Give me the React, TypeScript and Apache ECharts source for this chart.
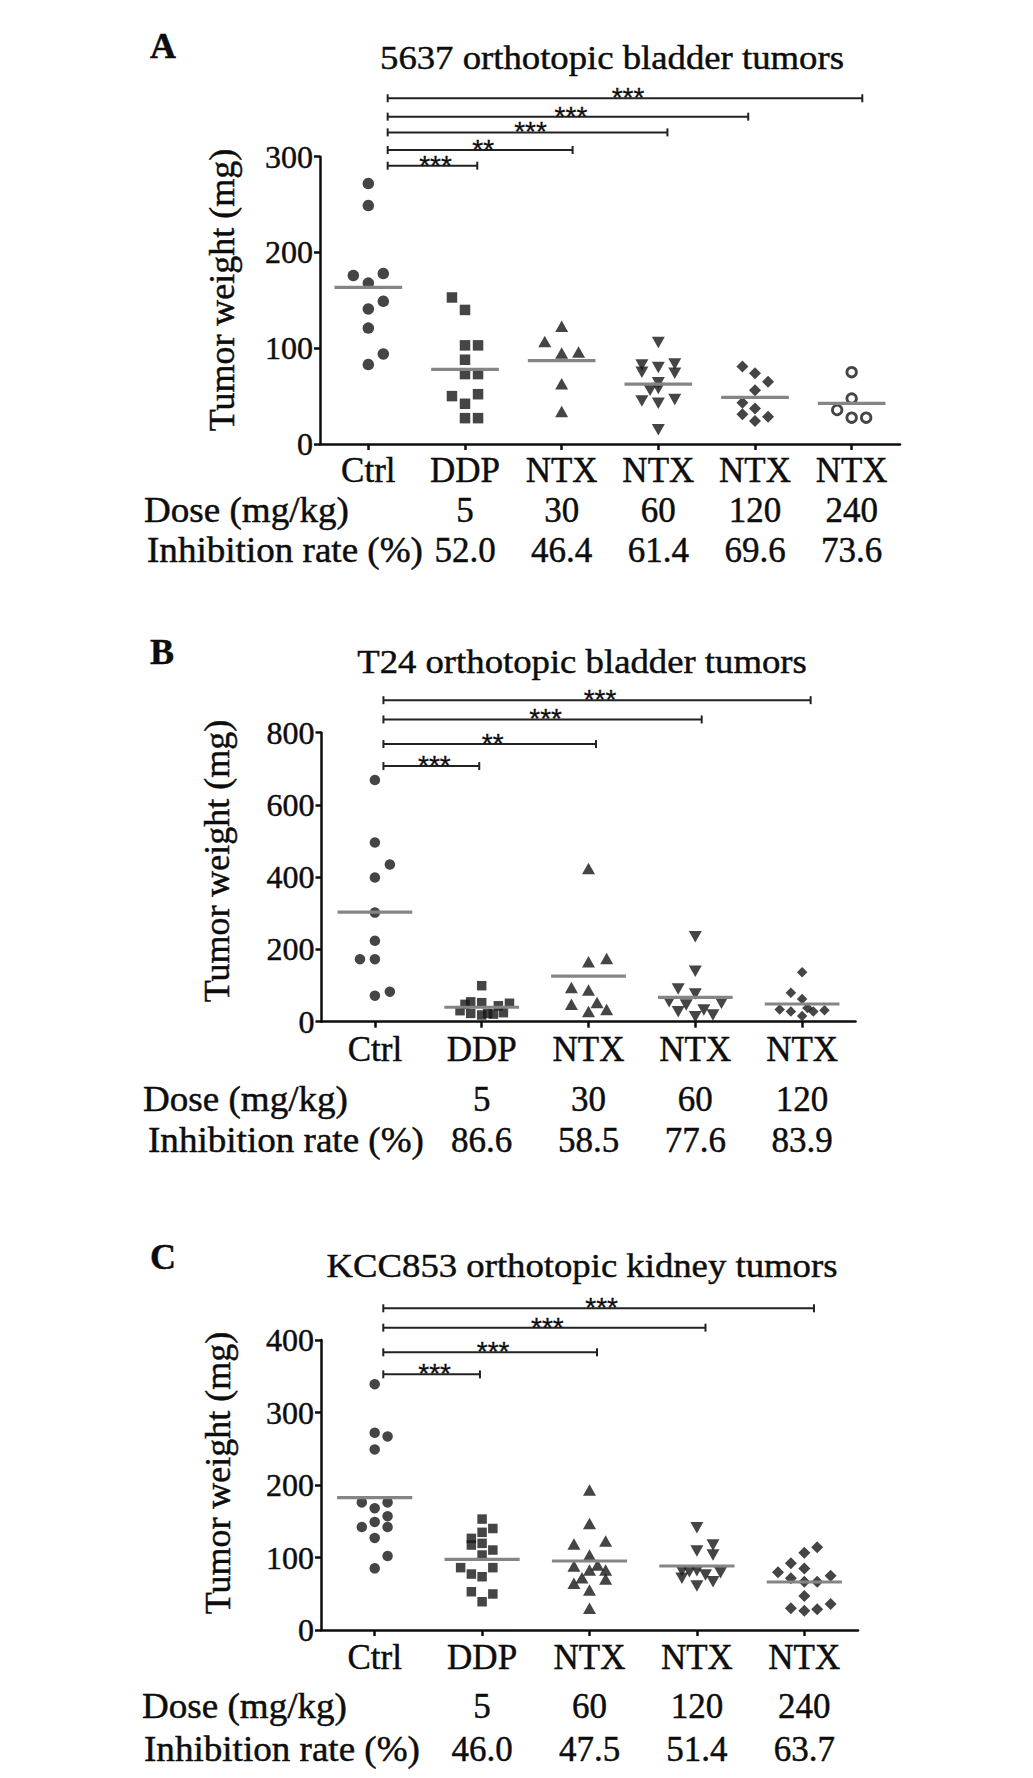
import React, { useEffect, useRef } from 'react';
import * as echarts from 'echarts';

const FONT = '"Liberation Serif", "Times New Roman", serif';
const STAR_FONT = '"Liberation Sans", Arial, sans-serif';
const INK = '#0d0d0d';
const MARK = '#161616';
const MEAN = '#858585';
const BOLDEN = 0.45;

// ---------------- Panel A ----------------
const titleA = '5637 orthotopic bladder tumors';
const catsA = ['Ctrl', 'DDP', 'NTX', 'NTX', 'NTX', 'NTX'];
const doseA = ['', '5', '30', '60', '120', '240'];
const inhibA = ['', '52.0', '46.4', '61.4', '69.6', '73.6'];
// points: [horizontal jitter in category units, tumor weight mg]
const a_ctrl = [[0, 272], [0, 249], [-0.155, 176], [0.155, 178], [0, 168], [0.155, 149], [0, 141], [0, 121], [0.155, 94], [0, 83]];
const a_ddp = [[-0.135, 153], [0, 140], [0, 103], [0.135, 103], [0, 88], [0, 73], [0.135, 73], [-0.135, 50], [0.135, 52], [0, 42], [0, 27], [0.135, 27]];
const a_ntx30 = [[0, 123], [-0.175, 107], [0, 95], [0.175, 96], [0, 63], [0, 34]];
const a_ntx60 = [[0, 106], [-0.17, 82.5], [0, 80], [0.17, 83.5], [-0.17, 75], [0.17, 74], [0, 64], [0, 58], [-0.085, 56], [-0.17, 45], [0, 42.5], [0.17, 46.5], [0, 15]];
const a_ntx120 = [[-0.13, 81], [0, 74], [0.135, 65], [0, 56], [-0.13, 43], [0, 37], [-0.13, 31], [0.135, 28.5], [0, 24]];
const a_ntx240 = [[0, 75], [0, 47.5], [-0.15, 35.5], [0, 27.5], [0.15, 27.5]];
const meansA = [163.6, 78, 87, 62.6, 48.7, 42.5];
const bracketStartA = 0.2;
const bracketEndA = [1.127, 2.113, 3.094, 3.93, 5.11];
const bracketYA = [290.6, 307, 325.4, 341.8, 361];
const starsA = ['***', '**', '***', '***', '***'];
const yTicksA = { min: 0, max: 300, interval: 100 };

// ---------------- Panel B ----------------
const titleB = 'T24 orthotopic bladder tumors';
const catsB = ['Ctrl', 'DDP', 'NTX', 'NTX', 'NTX'];
const doseB = ['', '5', '30', '60', '120'];
const inhibB = ['', '86.6', '58.5', '77.6', '83.9'];
const b_ctrl = [[0, 669], [0, 496], [0.14, 435], [0, 399], [0, 302], [0, 224], [-0.14, 173], [0, 173], [0.14, 83], [0, 72]];
const b_ddp = [[0, 99.7], [-0.156, 48], [-0.103, 55], [0, 52.6], [0.156, 44], [0.26, 51], [-0.203, 30.5], [-0.103, 23], [0, 18.6], [0.056, 23], [0.109, 21], [0.203, 25]];
const b_ntx30 = [[0, 424], [0.17, 175], [0, 166], [-0.16, 95], [0, 88], [-0.16, 48], [0.08, 53], [0.17, 34], [0, 28]];
const b_ntx60 = [[0, 235.5], [0, 140], [-0.16, 90.6], [0, 76.7], [-0.245, 55.4], [-0.085, 46.3], [0.245, 51], [-0.16, 27.7], [0.08, 32.4], [0.165, 18.6], [0, 13.9]];
const b_ntx120 = [[0, 136.8], [-0.105, 80.3], [0, 62.9], [-0.21, 34], [-0.105, 28], [0.05, 38], [0.105, 28], [0.21, 32], [0, 16]];
const meansB = [303.5, 40, 126, 67.6, 49];
const bracketStartB = 0.08;
const bracketEndB = [0.977, 2.07, 3.06, 4.08];
const bracketYB = [707.6, 768.5, 836.7, 890];
const starsB = ['***', '**', '***', '***'];
const yTicksB = { min: 0, max: 800, interval: 200 };

// ---------------- Panel C ----------------
const titleC = 'KCC853 orthotopic kidney tumors';
const catsC = ['Ctrl', 'DDP', 'NTX', 'NTX', 'NTX'];
const doseC = ['', '5', '60', '120', '240'];
const inhibC = ['', '46.0', '47.5', '51.4', '63.7'];
const c_ctrl = [[0, 339], [0, 272], [0.12, 267], [0, 249], [-0.12, 176], [0.12, 176], [0, 168], [0.12, 157], [0, 149], [-0.12, 142], [0.12, 142], [0, 127], [0.12, 102], [0, 85]];
const c_ddp = [[0, 153], [0.1, 140], [-0.1, 126.4], [-0.1, 117.2], [0, 134.7], [0, 119.5], [0.1, 110.3], [0, 103.4], [-0.2, 86], [0.1, 86], [-0.1, 77.2], [0, 73.5], [-0.1, 52.8], [0.1, 49.7], [0, 39]];
const c_ntx60 = [[0, 193], [0, 147], [-0.145, 118.6], [0.15, 122.8], [0, 103.4], [0.075, 89.7], [-0.145, 88.3], [0, 82.8], [0.15, 82.8], [-0.07, 72.2], [0.15, 70.3], [-0.145, 64.4], [0, 55.2], [0, 29.9]];
const c_ntx120 = [[0, 141], [0.15, 117.2], [0, 109], [0.15, 103.4], [-0.14, 81.8], [-0.07, 80.5], [0, 81.8], [0.08, 75.9], [0.22, 79], [-0.14, 71.3], [0.15, 66.7], [0, 60.7]];
const c_ntx240 = [[0.12, 114], [0, 106.7], [-0.125, 92], [0, 85], [-0.245, 79.5], [-0.125, 71.3], [0.245, 75], [0, 66.7], [0.12, 66.7], [0, 46.9], [-0.125, 29.9], [0, 26.7], [0.12, 28.5], [0.245, 35.9]];
const meansC = [182.5, 97.5, 95.2, 88.3, 66.2];
const bracketStartC = 0.08;
const bracketEndC = [0.98, 2.07, 3.08, 4.09];
const bracketYC = [352.6, 383, 417, 443.7];
const starsC = ['***', '***', '***', '***'];
const yTicksC = { min: 0, max: 400, interval: 100 };

const yName = 'Tumor weight (mg)';
const doseName = 'Dose (mg/kg)';
const inhibName = 'Inhibition rate (%)';

// ---------------- layout (pixels) ----------------
const panels = [
  {
    letter: 'A', title: titleA, cats: catsA, dose: doseA, inhib: inhibA,
    groups: [a_ctrl, a_ddp, a_ntx30, a_ntx60, a_ntx120, a_ntx240],
    symbols: ['circle', 'rect', 'triangle', 'triangleDown', 'diamond', 'emptyCircle'],
    means: meansA, bStart: bracketStartA, bEnd: bracketEndA, bY: bracketYA, stars: starsA, yTicks: yTicksA,
    grid: { left: 320, top: 156.7, width: 580, height: 287.3 },
    letterPos: [163, 46], titlePos: [612, 57], yNamePos: [222, 290],
    catMargin: 8.5, doseOffset: 48.5, inhibOffset: 88.5, rowNameX: [144, 147],
  },
  {
    letter: 'B', title: titleB, cats: catsB, dose: doseB, inhib: inhibB,
    groups: [b_ctrl, b_ddp, b_ntx30, b_ntx60, b_ntx120],
    symbols: ['circle', 'rect', 'triangle', 'triangleDown', 'diamond'],
    means: meansB, bStart: bracketStartB, bEnd: bracketEndB, bY: bracketYB, stars: starsB, yTicks: yTicksB,
    grid: { left: 321.5, top: 732.7, width: 534, height: 289 },
    letterPos: [162, 652], titlePos: [582, 661], yNamePos: [217, 861],
    catMargin: 10, doseOffset: 60, inhibOffset: 101.5, rowNameX: [143, 148],
  },
  {
    letter: 'C', title: titleC, cats: catsC, dose: doseC, inhib: inhibC,
    groups: [c_ctrl, c_ddp, c_ntx60, c_ntx120, c_ntx240],
    symbols: ['circle', 'rect', 'triangle', 'triangleDown', 'diamond'],
    means: meansC, bStart: bracketStartC, bEnd: bracketEndC, bY: bracketYC, stars: starsC, yTicks: yTicksC,
    grid: { left: 321, top: 1340, width: 537, height: 290 },
    letterPos: [163, 1257], titlePos: [582, 1265], yNamePos: [218, 1473],
    catMargin: 9.5, doseOffset: 58.5, inhibOffset: 101.5, rowNameX: [142, 144],
  },
];

function buildOption() {
  const grid: any[] = [];
  const xAxis: any[] = [];
  const yAxis: any[] = [];
  const series: any[] = [];
  const graphic: any[] = [];

  const labelStyle = { fontFamily: FONT, fontSize: 35, color: INK, textBorderColor: INK, textBorderWidth: BOLDEN };
  const txt = (extra: any) => ({ fontFamily: FONT, fill: INK, stroke: INK, lineWidth: BOLDEN, ...extra });

  panels.forEach((p, pi) => {
    grid.push({ ...p.grid, containLabel: false });
    const n = p.cats.length;
    const base = xAxis.length;
    // category axis (labels + ticks)
    xAxis.push({
      type: 'category', gridIndex: pi, data: p.cats, boundaryGap: true, position: 'bottom',
      axisLine: { show: true, onZero: false, lineStyle: { color: INK, width: 2.5 } },
      axisTick: { show: true, alignWithLabel: true, length: 6, lineStyle: { color: INK, width: 2.5 } },
      axisLabel: { ...labelStyle, margin: p.catMargin, interval: 0 },
      splitLine: { show: false },
    });
    // value axis for jittered points
    xAxis.push({ type: 'value', gridIndex: pi, min: -0.5, max: n - 0.5, show: false, axisLine: { onZero: false } });
    // dose row
    xAxis.push({
      type: 'category', gridIndex: pi, data: p.dose, boundaryGap: true, position: 'bottom', offset: p.doseOffset,
      axisLine: { show: false, onZero: false }, axisTick: { show: false }, splitLine: { show: false },
      axisLabel: { ...labelStyle, margin: 0, interval: 0 },
    });
    // inhibition row
    xAxis.push({
      type: 'category', gridIndex: pi, data: p.inhib, boundaryGap: true, position: 'bottom', offset: p.inhibOffset,
      axisLine: { show: false, onZero: false }, axisTick: { show: false }, splitLine: { show: false },
      axisLabel: { ...labelStyle, margin: 0, interval: 0 },
    });
    yAxis.push({
      type: 'value', gridIndex: pi, position: 'left', min: p.yTicks.min, max: p.yTicks.max, interval: p.yTicks.interval,
      axisLine: { show: true, onZero: false, lineStyle: { color: INK, width: 2.5 } },
      axisTick: { show: true, length: 6, lineStyle: { color: INK, width: 2.5 } },
      axisLabel: { fontFamily: FONT, fontSize: 32, color: INK, margin: 7, textBorderColor: INK, textBorderWidth: BOLDEN },
      splitLine: { show: false },
    });

    const vx = base + 1;
    p.groups.forEach((pts, gi) => {
      const sym = p.symbols[gi];
      const isDown = sym === 'triangleDown';
      const isOpen = sym === 'emptyCircle';
      let size: any = 11;
      if (sym === 'rect') size = pi === 0 ? 10.5 : 9.5;
      if (sym === 'triangle' || isDown) size = [13, 11.5];
      if (sym === 'diamond') size = pi === 1 ? 10.5 : 12;
      if (isOpen) size = 9.5;
      if (sym === 'circle') size = pi === 0 ? 11.5 : 10.5;
      series.push({
        type: 'scatter',
        xAxisIndex: vx, yAxisIndex: pi,
        symbol: isDown ? 'triangle' : isOpen ? 'circle' : sym,
        symbolRotate: isDown ? 180 : 0,
        symbolSize: size,
        itemStyle: isOpen
          ? { color: '#ffffff', borderColor: MARK, borderWidth: 2.8 }
          : { color: MARK },
        data: pts.map(([dx, v]) => [gi + dx, v]),
        z: 2,
        silent: true,
      });
    });

    // mean lines
    series.push({
      type: 'custom', xAxisIndex: vx, yAxisIndex: pi, z: 4, silent: true,
      data: p.means.map((m, i) => [i, m]),
      renderItem: (params: any, api: any) => {
        const x = api.value(0);
        const y = api.value(1);
        const a = api.coord([x - 0.35, y]);
        const b = api.coord([x + 0.35, y]);
        return {
          type: 'line',
          shape: { x1: a[0], y1: a[1], x2: b[0], y2: b[1] },
          style: { stroke: MEAN, lineWidth: 3.2 },
        };
      },
    });

    // significance brackets
    const stars = p.stars;
    series.push({
      type: 'custom', xAxisIndex: vx, yAxisIndex: pi, z: 5, silent: true, clip: false,
      encode: { x: [0, 1], y: 2 },
      data: p.bEnd.map((e, i) => [p.bStart, e, p.bY[i], i]),
      renderItem: (params: any, api: any) => {
        const a = api.coord([api.value(0), api.value(2)]);
        const b = api.coord([api.value(1), api.value(2)]);
        const k = api.value(3);
        const st = { stroke: '#222222', lineWidth: 2 };
        return {
          type: 'group',
          children: [
            { type: 'line', shape: { x1: a[0], y1: a[1], x2: b[0], y2: b[1] }, style: st },
            { type: 'line', shape: { x1: a[0], y1: a[1] - 4, x2: a[0], y2: a[1] + 4 }, style: st },
            { type: 'line', shape: { x1: b[0], y1: b[1] - 4, x2: b[0], y2: b[1] + 4 }, style: st },
            {
              type: 'text', x: (a[0] + b[0]) / 2 + 3, y: a[1] - 0.5,
              style: { text: stars[k], fontFamily: STAR_FONT, fontSize: 28, fill: INK, stroke: INK, lineWidth: 0.3, align: 'center', verticalAlign: 'middle' },
            },
          ],
        };
      },
    });

    // free texts
    graphic.push({
      type: 'text', x: p.letterPos[0], y: p.letterPos[1],
      style: txt({ text: p.letter, fontWeight: 'bold', fontSize: 36, align: 'center', verticalAlign: 'middle' }),
    });
    graphic.push({
      type: 'text', x: p.titlePos[0], y: p.titlePos[1], scaleX: 1.08,
      style: txt({ text: p.title, fontSize: 34, align: 'center', verticalAlign: 'middle' }),
    });
    graphic.push({
      type: 'text', x: p.yNamePos[0], y: p.yNamePos[1], rotation: Math.PI / 2,
      style: txt({ text: yName, fontSize: 36, align: 'center', verticalAlign: 'middle' }),
    });
    const axisY = p.grid.top + p.grid.height;
    graphic.push({
      type: 'text', x: p.rowNameX[0], y: axisY + p.doseOffset + 17.5, scaleX: 1.06,
      style: txt({ text: doseName, fontSize: 35, align: 'left', verticalAlign: 'middle' }),
    });
    graphic.push({
      type: 'text', x: p.rowNameX[1], y: axisY + p.inhibOffset + 17.5, scaleX: 1.06,
      style: txt({ text: inhibName, fontSize: 35, align: 'left', verticalAlign: 'middle' }),
    });
  });

  return {
    animation: false,
    backgroundColor: '#ffffff',
    grid, xAxis, yAxis, series, graphic,
  };
}

export default function App() {
  const ref = useRef<HTMLDivElement>(null);
  useEffect(() => {
    document.body.style.margin = '0';
    const chart = echarts.init(ref.current as HTMLDivElement, null, { renderer: 'svg' });
    chart.setOption(buildOption() as any);
    return () => chart.dispose();
  }, []);
  return <div ref={ref} style={{ width: 1033, height: 1778 }} />;
}
